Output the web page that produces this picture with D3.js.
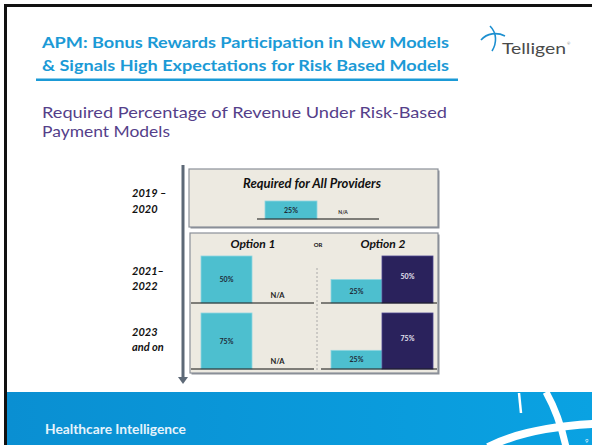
<!DOCTYPE html>
<html>
<head>
<meta charset="utf-8">
<script src="https://cdn.jsdelivr.net/npm/d3@7"></script>
<style>
  body { margin: 0; background: #fff; }
  svg { display: block; }
</style>
</head>
<body>
<div id="slide"></div>
<script>
// data
var periodLabels = [["2019 \u2013", "2020"], ["2021\u2013", "2022"], ["2023", "and on"]];
var requiredAll = [25, null];          // null = N/A
var option1 = [[50, null], [75, null]];
var option2Low = [25, 25];
var option2High = [50, 75];
var slots = ["a", "b"];

var W = 592, H = 445;
var cyan = "#4dbfcf", navy = "#2a225c", font = "Lato, 'Open Sans', sans-serif";

var svg = d3.select("#slide").append("svg")
    .attr("width", W)
    .attr("height", H);

// slide frame
svg.append("rect").attr("x", 0).attr("y", 0).attr("width", W).attr("height", H).attr("fill", "#fff");
svg.append("rect").attr("x", 4).attr("y", 4).attr("width", W - 4).attr("height", 3).attr("fill", "#111");
svg.append("rect").attr("x", 4).attr("y", 4).attr("width", 3).attr("height", H - 4).attr("fill", "#111");

// title
var title = svg.append("g").style("font-family", font).style("font-weight", "bold")
    .style("font-size", "16px").attr("fill", "#1b9ad6");
title.append("text").attr("x", 42).attr("y", 48)
    .attr("textLength", 407).attr("lengthAdjust", "spacingAndGlyphs")
    .text("APM: Bonus Rewards Participation in New Models");
title.append("text").attr("x", 42).attr("y", 71)
    .attr("textLength", 407).attr("lengthAdjust", "spacingAndGlyphs")
    .text("& Signals High Expectations for Risk Based Models");
svg.append("rect").attr("x", 36).attr("y", 78.5).attr("width", 422).attr("height", 2.5).attr("fill", "#1b9ad6");

// subtitle
var sub = svg.append("g").style("font-family", font).style("font-size", "16px").attr("fill", "#553f8a");
sub.append("text").attr("x", 42).attr("y", 118)
    .attr("textLength", 405).attr("lengthAdjust", "spacingAndGlyphs")
    .text("Required Percentage of Revenue Under Risk-Based");
sub.append("text").attr("x", 42).attr("y", 137)
    .attr("textLength", 128).attr("lengthAdjust", "spacingAndGlyphs")
    .text("Payment Models");

// logo
var logo = svg.append("g");
logo.append("path").attr("d", "M481,40 C487,33 497,32 505,36")
    .attr("fill", "none").attr("stroke", "#1c8fd0").attr("stroke-width", 1.6);
logo.append("path").attr("d", "M490,26 C497,33 497,43 492,51")
    .attr("fill", "none").attr("stroke", "#1c8fd0").attr("stroke-width", 1.6);
logo.append("text").attr("x", 502).attr("y", 54)
    .style("font-family", font).style("font-size", "15px").attr("fill", "#4a4a4a")
    .attr("textLength", 64).attr("lengthAdjust", "spacingAndGlyphs")
    .text("Telligen");
logo.append("text").attr("x", 567).attr("y", 45)
    .style("font-family", font).style("font-size", "4px").attr("fill", "#777").text("\u00ae");

// footer
var grad = svg.append("defs").append("linearGradient").attr("id", "foot");
grad.append("stop").attr("offset", "0%").attr("stop-color", "#0a8fd2");
grad.append("stop").attr("offset", "100%").attr("stop-color", "#0aa2e2");
svg.append("rect").attr("x", 7).attr("y", 392).attr("width", W - 7).attr("height", H - 392).attr("fill", "url(#foot)");
svg.append("text").attr("x", 45).attr("y", 434)
    .style("font-family", font).style("font-weight", "bold").style("font-size", "12.5px")
    .attr("fill", "#e6f3fb").attr("textLength", 141).attr("lengthAdjust", "spacingAndGlyphs")
    .text("Healthcare Intelligence");
var swoosh = svg.append("g").attr("fill", "none").attr("stroke", "#fff");
swoosh.append("path").attr("d", "M519,393 L521,413").attr("stroke-width", 2.5);
swoosh.append("path").attr("d", "M488,447 C518,432 555,426 594,424").attr("stroke-width", 8);
swoosh.append("path").attr("d", "M546,392 C556,410 562,428 566,447").attr("stroke-width", 7);
svg.append("text").attr("x", 585).attr("y", 443).style("font-family", font)
    .style("font-size", "6px").attr("fill", "#e6f3fb").text("9");

// timeline arrow
svg.append("rect").attr("x", 181.5).attr("y", 165).attr("width", 3).attr("height", 213).attr("fill", "#5d6977");
svg.append("path").attr("d", "M178,377 L188,377 L183,384 Z").attr("fill", "#5d6977");

// period labels
var per = svg.append("g").style("font-family", font).style("font-weight", "bold")
    .style("font-style", "italic").style("font-size", "11px").attr("fill", "#111");
var perY = [[197, 213], [275, 290], [336, 351]];
periodLabels.forEach(function(lines, i) {
  lines.forEach(function(l, j) {
    per.append("text").attr("x", 132).attr("y", perY[i][j]).text(l);
  });
});

// panels
function panel(x, y, w, h) {
  svg.append("rect").attr("x", x + 1.5).attr("y", y + 1.5).attr("width", w).attr("height", h)
      .attr("fill", "#8b8f96");
  svg.append("rect").attr("x", x).attr("y", y).attr("width", w).attr("height", h)
      .attr("fill", "#edeae1").attr("stroke", "#8b9099").attr("stroke-width", 1.2);
}
panel(189, 169, 249, 58);
panel(190, 233, 248, 140);

var head = svg.append("g").style("font-family", font).style("font-weight", "bold")
    .style("font-style", "italic").attr("fill", "#111").attr("text-anchor", "middle");
head.append("text").attr("x", 312).attr("y", 188).style("font-size", "13px").text("Required for All Providers");
head.append("text").attr("x", 253).attr("y", 248).style("font-size", "12px").text("Option 1");
head.append("text").attr("x", 383).attr("y", 248).style("font-size", "12px").text("Option 2");
svg.append("text").attr("x", 318).attr("y", 247).attr("text-anchor", "middle")
    .style("font-family", font).style("font-weight", "bold").style("font-size", "6px")
    .attr("fill", "#111").text("OR");

// divider between the options
svg.append("line").attr("x1", 317).attr("x2", 317).attr("y1", 268).attr("y2", 372)
    .attr("stroke", "#9a9a9a").attr("stroke-width", 0.8).attr("stroke-dasharray", "2,2");

// each row gets its own y scale (baseline -> top of tallest bar)
var rows = [
  {base: 219, top: 201},
  {base: 303, top: 256},
  {base: 369, top: 313}
];
function rowScale(r, max) {
  return d3.scaleLinear().domain([0, max]).range([r.base, r.top]);
}

function group(values, colors, x0, x1, lineX0, lineX1, r, naSize) {
  var x = d3.scaleBand().domain(slots).range([x0, x1]).paddingInner(0);
  var y = rowScale(r, d3.max(values));
  var g = svg.append("g");
  values.forEach(function(v, i) {
    var s = slots[i];
    if (v == null) {
      g.append("text").attr("x", x(s) + x.bandwidth() / 2).attr("y", r.base - 5)
          .attr("text-anchor", "middle").style("font-family", font).style("font-weight", "bold")
          .style("font-size", naSize + "px").attr("fill", "#222").text("N/A");
      return;
    }
    var dark = colors[i] === navy;
    g.append("rect").attr("x", x(s)).attr("y", y(v))
        .attr("width", x.bandwidth()).attr("height", r.base - y(v))
        .attr("fill", colors[i])
        .attr("stroke", dark ? "#4d4690" : "#8fd6e0").attr("stroke-width", 0.8);
    g.append("text").attr("x", x(s) + x.bandwidth() / 2)
        .attr("y", (y(v) + r.base) / 2 + 2.5 - (dark ? 3 : 0))
        .attr("text-anchor", "middle").style("font-family", font).style("font-weight", "bold")
        .style("font-size", "7px").attr("fill", dark ? "#e4e3f0" : "#1d2a36").text(v + "%");
  });
  g.append("line").attr("x1", lineX0).attr("x2", lineX1).attr("y1", r.base).attr("y2", r.base)
      .attr("stroke", "#111").attr("stroke-width", 1.2);
}

group(requiredAll, [cyan, cyan], 265, 369, 257, 379, rows[0], 5);
option1.forEach(function(vals, i) {
  group(vals, [cyan, cyan], 201, 303, 191, 314, rows[i + 1], 7.5);
  group([option2Low[i], option2High[i]], [cyan, navy], 331, 433, 321, 437, rows[i + 1], 7.5);
});
</script>
</body>
</html>
